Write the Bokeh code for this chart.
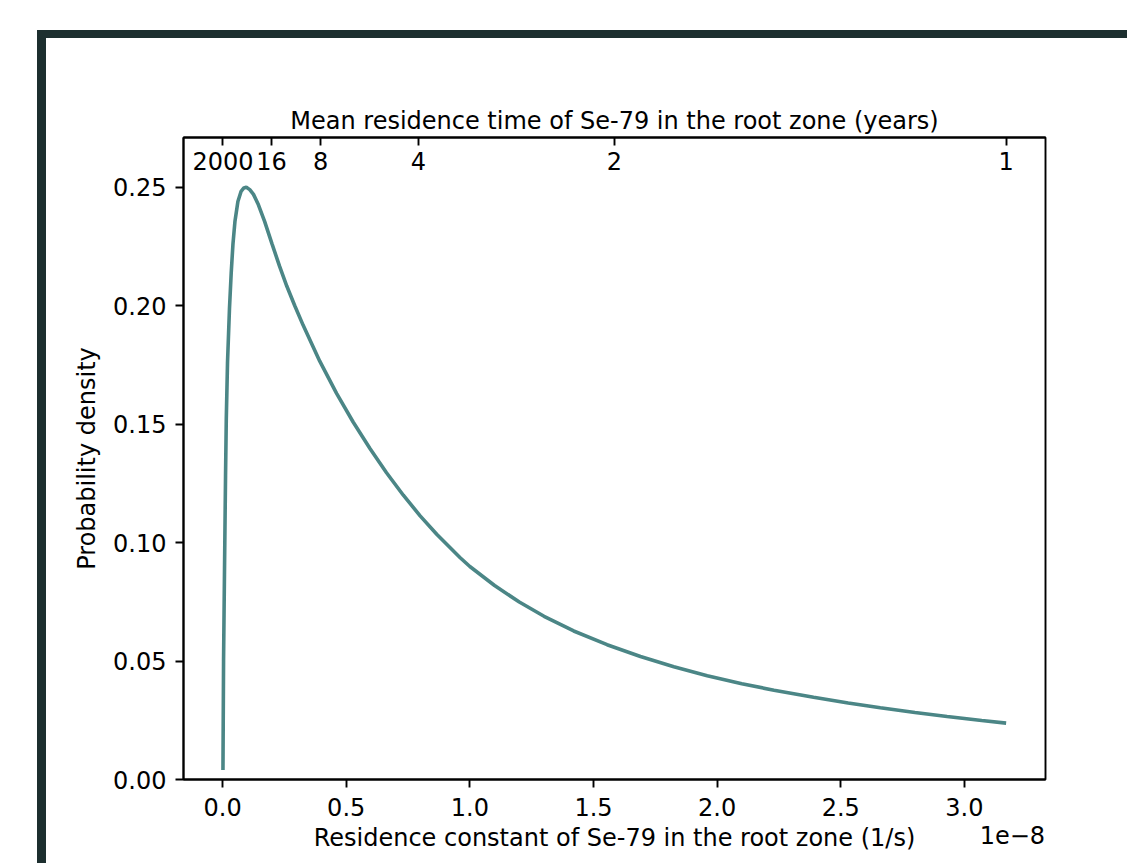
from bokeh.plotting import figure
from bokeh.models import (Range1d, LinearAxis, FixedTicker, CustomJSTickFormatter,
                          Div, Spacer)
from bokeh.layouts import column, row
from bokeh.embed import file_html
from bokeh.resources import INLINE

# ---- data ----
# residence constant in units of 1e-8 1/s
rate_e8 = [0.00158, 0.004, 0.008, 0.012, 0.015, 0.020, 0.028, 0.035, 0.042, 0.050,
           0.062, 0.075, 0.086, 0.096, 0.110, 0.125, 0.145, 0.170, 0.200, 0.230,
           0.260, 0.292, 0.326, 0.393, 0.461, 0.528, 0.596, 0.663, 0.731, 0.799,
           0.866, 0.961, 1.000, 1.100, 1.200, 1.300, 1.420, 1.555, 1.690, 1.825,
           1.960, 2.100, 2.230, 2.390, 2.530, 2.660, 2.800, 2.930, 3.070, 3.1688]
density = [0.004, 0.050, 0.090, 0.128, 0.152, 0.176, 0.199, 0.214, 0.226, 0.2355,
           0.2440, 0.2483, 0.2497, 0.2500, 0.2490, 0.2470, 0.2426, 0.2356, 0.2261, 0.2168,
           0.2082, 0.2000, 0.1917, 0.1766, 0.1630, 0.1509, 0.1397, 0.1295, 0.1200, 0.1113,
           0.1035, 0.0936, 0.0899, 0.0819, 0.0749, 0.0689, 0.0627, 0.0569, 0.0519, 0.0476,
           0.0438, 0.0404, 0.0377, 0.0347, 0.0323, 0.0303, 0.0283, 0.0266, 0.0249, 0.0238]

x_ticks_e8 = [0.0, 0.5, 1.0, 1.5, 2.0, 2.5, 3.0]
y_ticks = [0.0, 0.05, 0.10, 0.15, 0.20, 0.25]
top_years = [2000, 16, 8, 4, 2, 1]
SECONDS_PER_YEAR = 31557600.0

x_label = "Residence constant of Se-79 in the root zone (1/s)"
top_label = "Mean residence time of Se-79 in the root zone (years)"
y_label = "Probability density"
offset_text = "1e\u22128"

FONT = "DejaVu Sans"
FS = "24px"
LINE_COLOR = "#4b8686"
FRAME_DARK = "#1d2f2f"
OFFSET_TEXT_X = 3.194e-8   # where the scale-factor text is centred (style)

xs = [v * 1e-8 for v in rate_e8]

P_W, P_H = 1081, 825

p = figure(width=P_W, height=P_H, output_backend="svg", toolbar_location=None,
           x_range=Range1d(-0.158e-8, 3.328e-8), y_range=Range1d(0.0, 0.271),
           min_border_left=137, min_border_right=P_W - 999, min_border_top=99,
           min_border_bottom=P_H - 741, margin=0)
p.background_fill_color = "white"
p.border_fill_color = "white"
p.outline_line_color = "black"
p.outline_line_width = 1.9
p.grid.visible = False

p.line(xs, density, line_color=LINE_COLOR, line_width=3.6)


def style_axis(ax):
    ax.axis_line_color = "black"
    ax.axis_line_width = 1.9
    ax.major_tick_line_color = "black"
    ax.major_tick_line_width = 1.9
    ax.major_tick_out = 8
    ax.major_tick_in = 0
    ax.minor_tick_line_color = None
    ax.major_label_text_font = FONT
    ax.major_label_text_font_size = FS
    ax.major_label_text_color = "black"
    ax.axis_label_text_font = FONT
    ax.axis_label_text_font_size = FS
    ax.axis_label_text_font_style = "normal"
    ax.axis_label_text_color = "black"


xa = p.xaxis[0]
style_axis(xa)
xa.ticker = FixedTicker(ticks=[v * 1e-8 for v in x_ticks_e8])
xa.formatter = CustomJSTickFormatter(code="return (tick*1e8).toFixed(1);")
xa.axis_label = x_label
xa.major_label_standoff = 10
xa.axis_label_standoff = 5

ya = p.yaxis[0]
style_axis(ya)
ya.ticker = FixedTicker(ticks=y_ticks)
ya.formatter = CustomJSTickFormatter(code="return tick.toFixed(2);")
ya.axis_label = y_label
ya.major_label_standoff = 9
ya.axis_label_standoff = 9

top = LinearAxis()
style_axis(top)
top.ticker = FixedTicker(ticks=[1.0 / (y * SECONDS_PER_YEAR) for y in top_years])
top.formatter = CustomJSTickFormatter(args=dict(spy=SECONDS_PER_YEAR),
                                      code="return String(Math.round(1/(tick*spy)));")
top.major_tick_out = 0
top.major_tick_in = 8
top.major_label_standoff = -32
top.axis_label = top_label
top.axis_label_standoff = 14
p.add_layout(top, "above")

# scale factor text (matplotlib offset text), right-aligned under the x axis
off_axis = LinearAxis(ticker=FixedTicker(ticks=[OFFSET_TEXT_X]))
style_axis(off_axis)
off_axis.axis_line_color = None
off_axis.major_tick_line_color = None
off_axis.major_tick_out = 0
off_axis.minor_tick_out = 0
off_axis.formatter = CustomJSTickFormatter(args=dict(txt=offset_text),
                                           code="return txt;")
off_axis.major_label_standoff = -29
p.add_layout(off_axis, "below")

band_top = Div(width=9 + P_W, height=8, margin=0,
               styles={"background-color": FRAME_DARK})
band_left = Div(width=9, height=P_H, margin=0,
                styles={"background-color": FRAME_DARK})

layout = column(
    Spacer(width=37 + 9 + P_W, height=30, margin=0),
    row(Spacer(width=37, height=8 + P_H, margin=0),
        column(band_top, row(band_left, p, margin=0), margin=0),
        margin=0),
    margin=0,
)

open("out.html", "w").write(file_html(layout, INLINE))
